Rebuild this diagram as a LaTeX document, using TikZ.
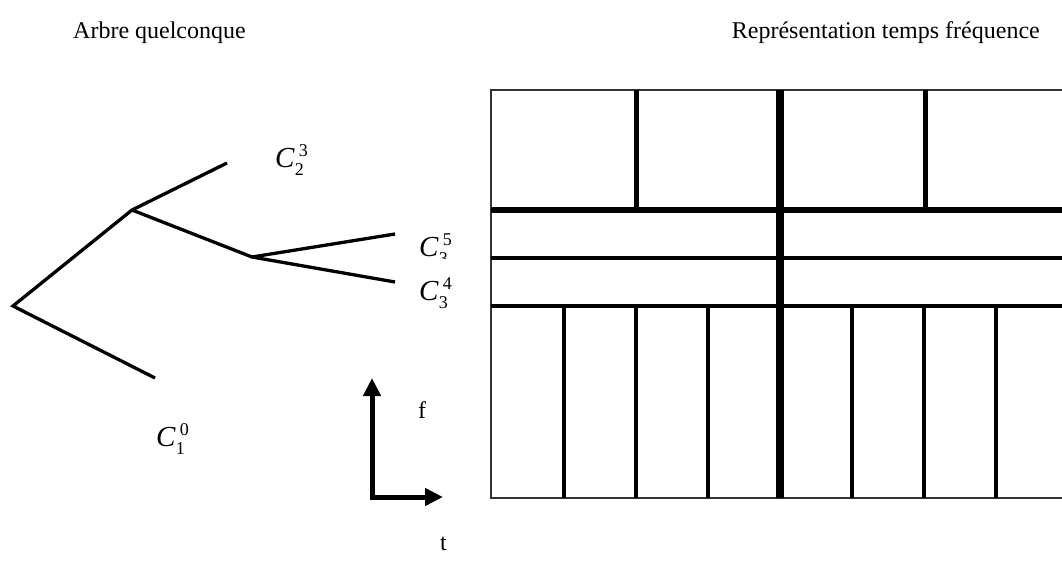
\documentclass[tikz,border=0pt]{standalone}
\usepackage{fontspec}
\setmainfont{Liberation Serif}
\usetikzlibrary{arrows.meta}
\newcommand\Clab[2]{\textit{C}\rlap{\raisebox{-8pt}{\fontsize{18}{18}\selectfont #1}}\kern4pt\raisebox{11pt}{\fontsize{18}{18}\selectfont #2}}
\tikzset{
  lbl/.style={inner sep=0pt, anchor=base west},
  mlbl/.style={inner sep=0pt, anchor=base west, font=\fontsize{29}{32}\selectfont},
  branch/.style={line width=3.3pt, line join=miter},
  axis/.style={line width=5pt, {Triangle[width=17pt,length=18pt]}-{Triangle[width=17pt,length=18pt]}},
  border/.style={line width=1.6pt, draw=black!80},
  thickv/.style={line width=7.5pt},
  midv/.style={line width=5pt},
  thinv/.style={line width=3.8pt},
  thickh/.style={line width=6pt},
  thinh/.style={line width=4pt}
}
\begin{document}
\begin{tikzpicture}[x=1pt,y=-1pt,font=\fontsize{24}{28}\selectfont]
\useasboundingbox (0,0) rectangle (1062,562);
\clip (0,0) rectangle (1062,562);
% titles
\node[lbl] (title1) at (73,38) {Arbre quelconque};
\node[inner sep=0pt, anchor=base east] (title2) at (1040,38) {Représentation temps fréquence};
% tree
\coordinate (root) at (13,306);
\coordinate (n1) at (132,210);
\coordinate (n2) at (252,257);
\coordinate (la) at (227,163);
\coordinate (lb) at (395,234);
\coordinate (lc) at (395,282);
\coordinate (ld) at (155,378);
\draw[branch] (ld) -- (root) -- (n1) -- (la);
\draw[branch] (n1) -- (n2) -- (lb);
\draw[branch] (n2) -- (lc);
% labels
\node[mlbl] (c23) at (275,167) {\Clab{2}{3}};
\begin{scope}
\clip (400,200) rectangle (480,258.5);
\node[mlbl] (c35) at (419,256) {\Clab{3}{5}};
\end{scope}
\node[mlbl] (c34) at (419,300) {\Clab{3}{4}};
\node[mlbl] (c10) at (156,446) {\Clab{1}{0}};
% axes
\coordinate (o) at (372,497);
\coordinate (ftip) at (372,378);
\coordinate (ttip) at (443,497);
\draw[axis] (ftip) -- (o) -- (ttip);
\node[lbl] (f) at (418,418) {f};
\node[lbl] (t) at (440,550) {t};
% grid
\coordinate (g1) at (491,90);
\coordinate (g2) at (1075,498);
\draw[border] (g1) rectangle (g2);
\draw[thickh] (491,210) -- (1075,210);
\draw[thinh] (491,258) -- (1075,258);
\draw[thinh] (491,306) -- (1075,306);
\foreach \x in {636,925} \draw[midv] (\x,90) -- (\x,210);
\foreach \x in {564,636,708,852,924,996} \draw[thinv] (\x,306) -- (\x,498);
\draw[thickv] (780,90) -- (780,498);
\end{tikzpicture}
\end{document}
